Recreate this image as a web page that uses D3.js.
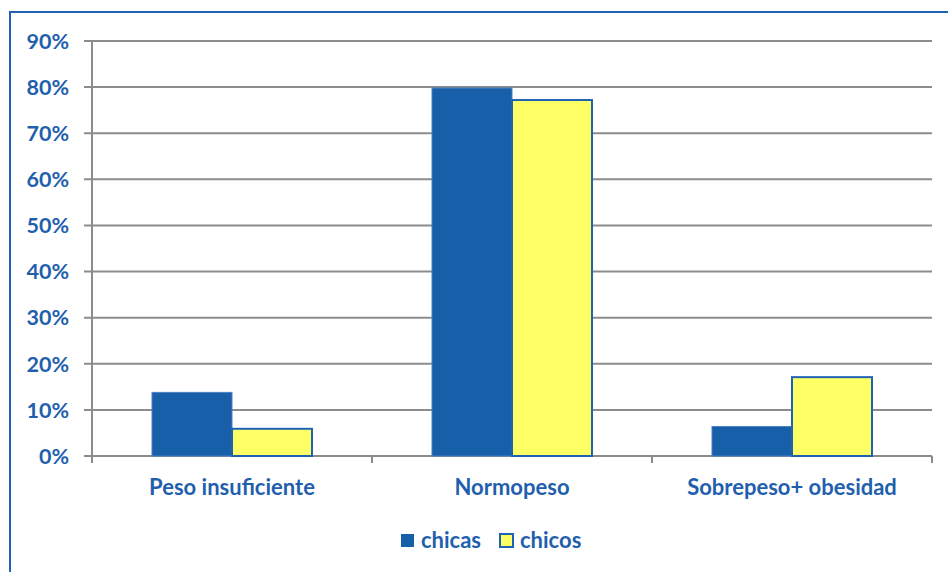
<!DOCTYPE html>
<html><head><meta charset="utf-8">
<script src="https://cdn.jsdelivr.net/npm/d3@7"></script>
<style>body{margin:0;background:#fff}svg{display:block}</style>
</head><body>
<svg id="c" width="948" height="572"></svg>
<script>
const categories = ["Peso insuficiente", "Normopeso", "Sobrepeso+ obesidad"];
const seriesNames = ["chicas", "chicos"];
const chicas = [13.8, 79.8, 6.4];
const chicos = [5.9, 77.2, 17.1];
const yTicks = [0, 10, 20, 30, 40, 50, 60, 70, 80, 90];

const textColor = "#1F5FAD";
const fills = {chicas: "#175FA9", chicos: "#FFFF66"};
const font = "Lato, 'Open Sans', sans-serif";

const svg = d3.select("#c");
// frame
svg.append("path").attr("d", "M10,580 L10,12 L960,12")
  .attr("fill", "none").attr("stroke", "#1F64B4").attr("stroke-width", 2);

const x0 = d3.scaleBand().domain(categories).range([92, 932]).paddingInner(0).paddingOuter(0);
const x1 = d3.scaleBand().domain(seriesNames).range([0, x0.bandwidth()]).paddingInner(0).paddingOuter(0.75);
const y = d3.scaleLinear().domain([0, 90]).range([456, 41]);

// gridlines
svg.append("g").selectAll("line").data(yTicks).join("line")
  .attr("x1", 84).attr("x2", 932)
  .attr("y1", d => y(d)).attr("y2", d => y(d))
  .attr("stroke", "#8c8c8c").attr("stroke-width", 2);

// y axis line
svg.append("line").attr("x1", 92).attr("x2", 92).attr("y1", y(90)).attr("y2", 463)
  .attr("stroke", "#8c8c8c").attr("stroke-width", 2);
// x ticks
svg.append("g").selectAll("line").data(categories).join("line")
  .attr("x1", d => x0(d) + x0.bandwidth()).attr("x2", d => x0(d) + x0.bandwidth())
  .attr("y1", 456).attr("y2", 463).attr("stroke", "#8c8c8c").attr("stroke-width", 2);

// y labels
svg.append("g").selectAll("text").data(yTicks).join("text")
  .attr("x", 69).attr("y", d => y(d)).attr("dy", "0.36em")
  .attr("text-anchor", "end").attr("fill", textColor)
  .attr("font-family", font).attr("font-weight", "bold").attr("font-size", 21.5)
  .text(d => d + "%");

// bars
const data = categories.map((c, i) => ({cat: c, vals: [{s: "chicas", v: chicas[i]}, {s: "chicos", v: chicos[i]}]}));
const g = svg.append("g").selectAll("g").data(data).join("g")
  .attr("transform", d => `translate(${x0(d.cat)},0)`);
g.selectAll("rect").data(d => d.vals).join("rect")
  .attr("x", d => x1(d.s)).attr("width", x1.bandwidth())
  .attr("y", d => y(d.v)).attr("height", d => y(0) - y(d.v))
  .attr("fill", d => fills[d.s])
  .attr("stroke", d => d.s === "chicos" ? "#1F64B4" : "#4a80c0")
  .attr("stroke-width", d => d.s === "chicos" ? 2 : 1);

// x labels
svg.append("g").selectAll("text").data(categories).join("text")
  .attr("x", d => x0(d) + x0.bandwidth() / 2).attr("y", 495)
  .attr("text-anchor", "middle").attr("fill", textColor)
  .attr("font-family", font).attr("font-weight", "bold").attr("font-size", 22)
  .text(d => d);

// legend
const leg = svg.append("g");
const legX = [401, 500];
seriesNames.forEach((s, i) => {
  leg.append("rect").attr("x", legX[i]).attr("y", 534).attr("width", 13).attr("height", 13)
    .attr("fill", fills[s]).attr("stroke", "#1F64B4").attr("stroke-width", s === "chicos" ? 2 : 0);
  leg.append("text").attr("x", legX[i] + 20).attr("y", 548)
    .attr("fill", textColor).attr("font-family", font).attr("font-weight", "bold").attr("font-size", 22)
    .text(s);
});
</script>
</body></html>
